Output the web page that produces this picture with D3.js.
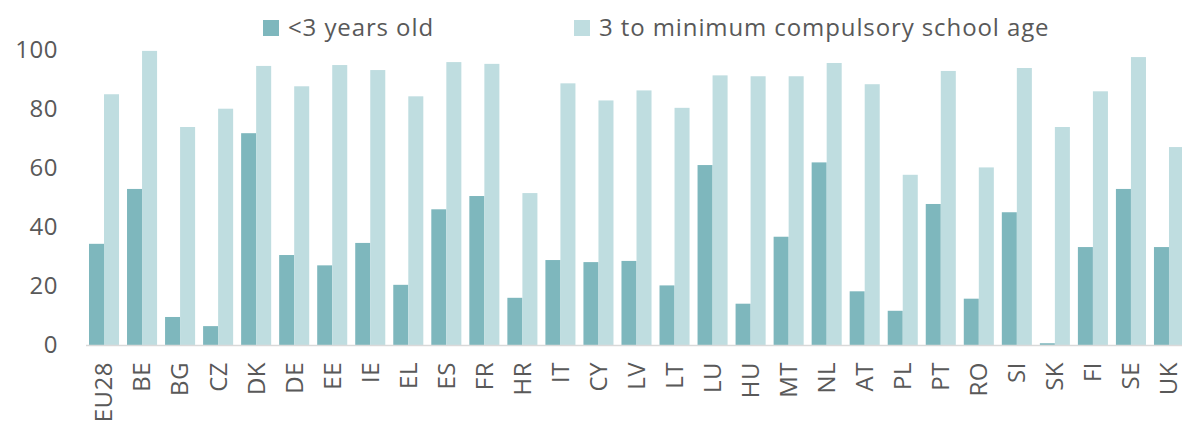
<!DOCTYPE html>
<html>
<head>
<meta charset="utf-8">
<script src="https://cdn.jsdelivr.net/npm/d3@7"></script>
<style>
  body { margin: 0; background: #fff; }
  text { font-family: "Open Sans", sans-serif; fill: #595959; }
</style>
</head>
<body>
<svg id="chart" width="1182" height="425"></svg>
<script>
var countries = ["EU28", "BE", "BG", "CZ", "DK", "DE", "EE", "IE", "EL", "ES", "FR", "HR", "IT", "CY", "LV",
  "LT", "LU", "HU", "MT", "NL", "AT", "PL", "PT", "RO", "SI", "SK", "FI", "SE", "UK"]

var under3 = [34.3, 52.9, 9.5, 6.4, 71.8, 30.5, 27.0, 34.6, 20.4, 46.0, 50.5, 16.0, 28.8, 28.1, 28.5,
  20.2, 61.0, 14.0, 36.7, 61.9, 18.2, 11.6, 47.8, 15.7, 45.0, 0.6, 33.2, 52.9, 33.2]

var threeToSchool = [85.0, 99.7, 73.9, 80.1, 94.6, 87.7, 94.9, 93.2, 84.3, 95.9, 95.3, 51.5, 88.7, 82.9, 86.3,
  80.4, 91.4, 91.1, 91.1, 95.6, 88.4, 57.7, 92.9, 60.2, 93.9, 73.9, 86.0, 97.6, 67.1]

var yTicks = [0, 20, 40, 60, 80, 100]

var seriesNames = ["<3 years old", "3 to minimum compulsory school age"]
var colors = ["#7EB7BD", "#BFDDE0"]

var svg = d3.select("#chart")
var plotLeft = 85, plotRight = 1188, plotTop = 50, plotBottom = 345

var x = d3.scaleBand().domain(countries).range([plotLeft, plotRight]).paddingInner(0.21).paddingOuter(0.105)
var sub = d3.scaleBand().domain([0, 1]).range([0, x.bandwidth()])
var y = d3.scaleLinear().domain([0, 100]).range([plotBottom, plotTop])

// y axis, labels only
var yAxis = svg.append("g")
  .attr("transform", "translate(" + 60 + ",0)")
  .call(d3.axisLeft(y).tickValues(yTicks).tickSize(0).tickPadding(2))
yAxis.select(".domain").remove()
yAxis.selectAll("text").style("font-size", "24px").style("fill", "#595959").style("letter-spacing", "0.5px")

var data = [under3, threeToSchool]

data.forEach(function (vals, i) {
  svg.append("g").selectAll("rect")
    .data(vals)
    .enter().append("rect")
    .attr("x", function (d, j) { return x(countries[j]) + sub(i) })
    .attr("y", function (d) { return y(d) })
    .attr("width", sub.bandwidth())
    .attr("height", function (d) { return y(0) - y(d) })
    .style("fill", colors[i])
})

// baseline
svg.append("line")
  .attr("x1", 86).attr("x2", 1182)
  .attr("y1", y(0) + 0.5).attr("y2", y(0) + 0.5)
  .style("stroke", "#d9d9d9").style("stroke-width", 1.5)

// x axis labels
var xAxis = svg.append("g")
  .attr("transform", "translate(0," + (plotBottom + 17) + ")")
  .call(d3.axisBottom(x).tickSize(0).tickPadding(0))
xAxis.select(".domain").remove()
xAxis.selectAll("text")
  .style("font-size", "24px")
  .style("fill", "#595959")
  .style("letter-spacing", "0.5px")
  .attr("transform", "rotate(-90)")
  .attr("text-anchor", "end")
  .attr("x", 0).attr("y", 0)
  .attr("dy", "0.35em")

// legend
var legendX = [263, 574]
seriesNames.forEach(function (name, i) {
  var g = svg.append("g").attr("transform", "translate(" + legendX[i] + ",20)")
  g.append("rect").attr("width", 16).attr("height", 16).style("fill", colors[i])
  g.append("text").attr("x", 25).attr("y", 16).style("font-size", "24px")
    .style("letter-spacing", "0.9px").text(name)
})
</script>
</body>
</html>
